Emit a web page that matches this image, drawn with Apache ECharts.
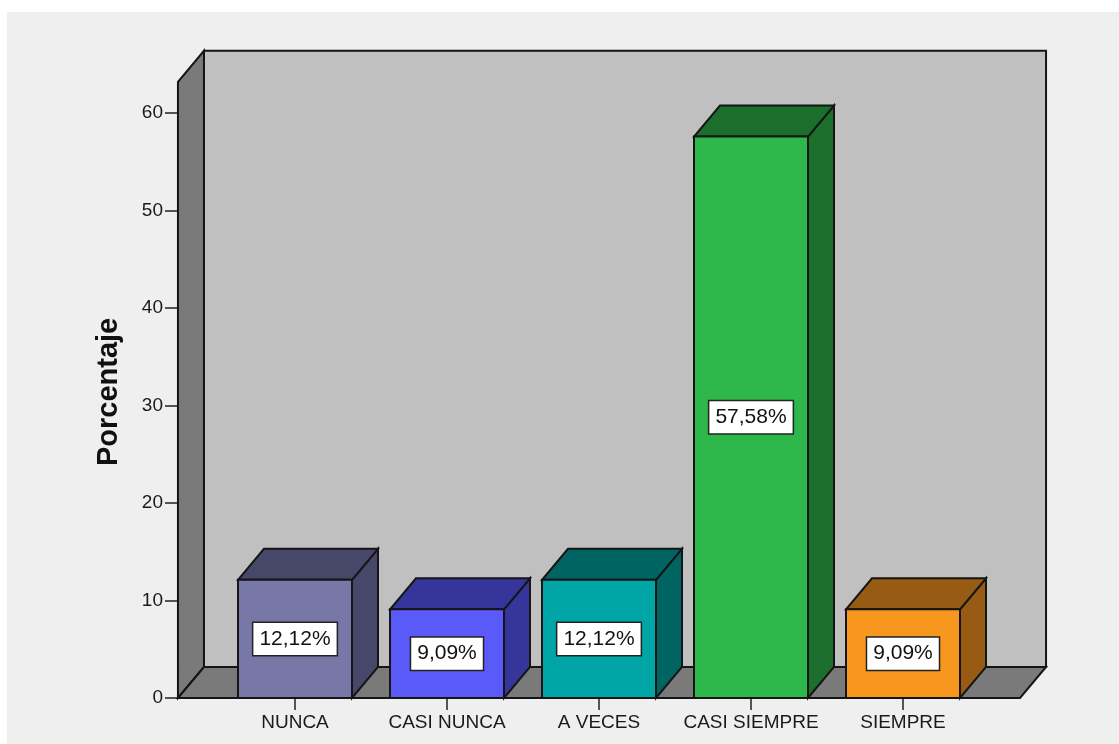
<!DOCTYPE html>
<html>
<head>
<meta charset="utf-8">
<script src="https://cdn.jsdelivr.net/npm/echarts@6/dist/echarts.min.js"></script>
<style>
  html, body { margin: 0; padding: 0; background: #ffffff; }
  #chart { width: 1119px; height: 744px; }
</style>
</head>
<body>
<div id="chart"></div>
<script>
// Response categories and their percentages
const categories = ['NUNCA', 'CASI NUNCA', 'A VECES', 'CASI SIEMPRE', 'SIEMPRE'];
const percentages = [12.12, 9.09, 12.12, 57.58, 9.09];

// Y axis scale
const yAxisMin = 0;
const yAxisMax = 60;
const yAxisStep = 10;
const yAxisTitle = 'Porcentaje';

// Front-face colours and the darker shade used for the top/side faces
const frontColors = ['#7878a8', '#5a5af8', '#00a6a6', '#2eb74a', '#f7971d'];
const shadeColors = ['#47476a', '#35359c', '#006463', '#1c6e2d', '#975b13'];

// 3D look: depth offsets in pixels, wall height in axis units, side padding as share of a band
const DEPTH_X = 26;
const DEPTH_Y = 31;
const WALL_TOP = 63.2;
const SIDE_PAD = 0.27;
const BAR_SHARE = 0.75;

const FONT = "'Liberation Sans', Arial, sans-serif";
const EDGE = '#151515';

function fmtPct(v) {
  return v.toFixed(2).replace('.', ',') + '%';
}

// Back wall, left wall and floor of the 3D box
function renderFrame(params, api) {
  const band = api.size([1, 0])[0];
  const n = categories.length;
  const x0 = api.coord([0, 0])[0] - band / 2 - band * SIDE_PAD;
  const x1 = api.coord([n - 1, 0])[0] + band / 2 + band * SIDE_PAD;
  const yb = api.coord([0, 0])[1];
  const yt = api.coord([0, WALL_TOP])[1];
  const edge = { stroke: EDGE, lineWidth: 2, lineJoin: 'miter' };
  return {
    type: 'group',
    children: [
      {
        type: 'polygon',
        shape: { points: [[x0 + DEPTH_X, yt - DEPTH_Y], [x1 + DEPTH_X, yt - DEPTH_Y], [x1 + DEPTH_X, yb - DEPTH_Y], [x0 + DEPTH_X, yb - DEPTH_Y]] },
        style: Object.assign({ fill: '#c0c0c0' }, edge)
      },
      {
        type: 'polygon',
        shape: { points: [[x0, yt], [x0 + DEPTH_X, yt - DEPTH_Y], [x0 + DEPTH_X, yb - DEPTH_Y], [x0, yb]] },
        style: Object.assign({ fill: '#7a7a7a' }, edge)
      },
      {
        type: 'polygon',
        shape: { points: [[x0, yb], [x0 + DEPTH_X, yb - DEPTH_Y], [x1 + DEPTH_X, yb - DEPTH_Y], [x1, yb]] },
        style: Object.assign({ fill: '#7a7a7a' }, edge)
      },
      {
        // axis title, centred on the left wall's front edge height
        type: 'text',
        x: x0 - 69,
        y: (yt + yb) / 2 + 2,
        rotation: Math.PI / 2,
        style: {
          text: yAxisTitle,
          align: 'center',
          verticalAlign: 'middle',
          font: 'bold 29px ' + FONT,
          fill: '#111'
        }
      }
    ]
  };
}

// One 3D bar: front face, top face, side face and value box
function renderBar(params, api) {
  const i = api.value(0);
  const v = api.value(1);
  const band = api.size([1, 0])[0];
  const w = band * BAR_SHARE;
  const base = api.coord([i, 0]);
  const cx = base[0];
  const yb = base[1];
  const yt = api.coord([i, v])[1];
  const l = cx - w / 2;
  const r = cx + w / 2;
  const edge = { stroke: EDGE, lineWidth: 2, lineJoin: 'miter' };
  return {
    type: 'group',
    children: [
      {
        type: 'polygon',
        shape: { points: [[r, yt], [r + DEPTH_X, yt - DEPTH_Y], [r + DEPTH_X, yb - DEPTH_Y], [r, yb]] },
        style: Object.assign({ fill: shadeColors[i] }, edge)
      },
      {
        type: 'polygon',
        shape: { points: [[l, yt], [l + DEPTH_X, yt - DEPTH_Y], [r + DEPTH_X, yt - DEPTH_Y], [r, yt]] },
        style: Object.assign({ fill: shadeColors[i] }, edge)
      },
      {
        type: 'polygon',
        shape: { points: [[l, yt], [r, yt], [r, yb], [l, yb]] },
        style: Object.assign({ fill: frontColors[i] }, edge)
      },
      {
        type: 'text',
        z2: 10,
        style: {
          x: cx,
          y: (yt + yb) / 2,
          text: fmtPct(v),
          align: 'center',
          verticalAlign: 'middle',
          font: '21px ' + FONT,
          fill: '#111',
          backgroundColor: '#ffffff',
          borderColor: '#222',
          borderWidth: 1.5,
          padding: [6, 6, 5, 6]
        }
      }
    ]
  };
}

const chart = echarts.init(document.getElementById('chart'), null, { renderer: 'canvas' });

chart.setOption({
  backgroundColor: '#ffffff',
  animation: false,
  graphic: {
    elements: [
      {
        type: 'rect',
        z: -100,
        silent: true,
        shape: { x: 7, y: 12, width: 1112, height: 732 },
        style: { fill: '#efefef' }
      }
    ]
  },
  grid: { left: 219, right: 140, top: 113, bottom: 46 },
  xAxis: {
    type: 'category',
    data: categories,
    axisLine: { show: false },
    axisTick: { show: true, alignWithLabel: true, interval: 0, length: 12, lineStyle: { color: '#222', width: 1.5 } },
    axisLabel: { interval: 0, fontSize: 19, color: '#1a1a1a', margin: 15, fontFamily: FONT },
    splitLine: { show: false }
  },
  yAxis: {
    type: 'value',
    min: yAxisMin,
    max: yAxisMax,
    interval: yAxisStep,
    offset: 41,
    axisLine: { show: true, lineStyle: { color: EDGE, width: 2 } },
    axisTick: { show: true, length: 13, lineStyle: { color: '#222', width: 1.5 } },
    axisLabel: { fontSize: 19, color: '#1a1a1a', margin: 15, fontFamily: FONT },
    splitLine: { show: false }
  },
  series: [
    {
      type: 'custom',
      z: 1,
      silent: true,
      renderItem: renderFrame,
      data: [[0, 0]]
    },
    {
      type: 'custom',
      z: 3,
      renderItem: renderBar,
      data: categories.map((c, i) => [i, percentages[i]])
    }
  ]
});
</script>
</body>
</html>
